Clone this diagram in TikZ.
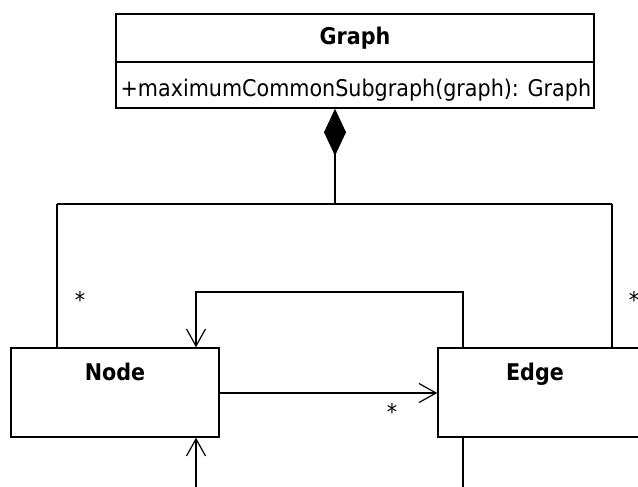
\documentclass[tikz,border=0pt]{standalone}
\usepackage{fontspec}
\setmainfont{DejaVu Sans Condensed}
\usetikzlibrary{arrows.meta,calc}
\tikzset{
  classbox/.style={draw, line width=1.5pt, inner sep=0pt, fill=white},
  conn/.style={line width=1.5pt},
  navarrow/.style={-{Straight Barb[length=17pt,width=19pt,line width=1.2pt]}},
  comptip/.style={{Diamond[length=47pt,width=22pt]}-},
  title/.style={font=\fontsize{23}{27}\selectfont\bfseries, inner sep=0pt, anchor=base},
  optext/.style={font=\fontsize{23}{27}\selectfont, inner sep=0pt, anchor=base},
  mult/.style={font=\fontsize{23}{27}\selectfont, inner sep=0pt}
}
\begin{document}
\begin{tikzpicture}[x=1pt,y=-1pt]
\useasboundingbox (0,0) rectangle (638,487);
\clip (0,0) rectangle (638,487);
\fill[white] (0,0) rectangle (638,487);

% Graph class: name compartment and operation compartment
\node[classbox, minimum width=478pt, minimum height=48pt] (ghead) at (355,38) {};
\node[classbox, minimum width=478pt, minimum height=46pt] (gops) at (355,85) {};
\node[title] (gname) at (355,45) {Graph};
\node[optext] (gop) at (356,96) {+maximumCommonSubgraph(graph): Graph};

% Node and Edge classes
\node[classbox, minimum width=208pt, minimum height=89pt] (node) at (115,392.5) {};
\node[title] (nname) at (115,380) {Node};
\node[classbox, minimum width=262pt, minimum height=89pt] (edge) at (569,392.5) {};
\node[title] (ename) at (535,380) {Edge};

% helper coordinates for the routed connectors
\coordinate (j) at (335,204);
\coordinate (lx) at (57,0);
\coordinate (rx) at (612,0);
\coordinate (ax) at (196,0);
\coordinate (bx) at (463,0);
\coordinate (loopy) at (0,292);
\coordinate (midy) at (0,393);
\coordinate (boty) at (0,490);

% composition from Graph
\draw[conn, comptip] (gops.south -| j) -- (j);
\draw[conn] (lx |- j) -- (rx |- j);
\draw[conn] (lx |- j) -- (lx |- node.north);
\draw[conn] (rx |- j) -- (rx |- edge.north);

% Edge -> Node loop over the top
\draw[conn, navarrow] (bx |- edge.north) -- (bx |- loopy) -- (ax |- loopy) -- (ax |- node.north);

% Node -> Edge
\draw[conn, navarrow] (node.east |- midy) -- (edge.west |- midy);

% lines leaving at the bottom
\draw[conn, navarrow] (ax |- boty) -- (ax |- node.south);
\draw[conn] (bx |- edge.south) -- (bx |- boty);

% multiplicities
\node[mult] (m1) at (80,300) {*};
\node[mult] (m2) at (634,300) {*};
\node[mult] (m3) at (392,412) {*};
\end{tikzpicture}
\end{document}
